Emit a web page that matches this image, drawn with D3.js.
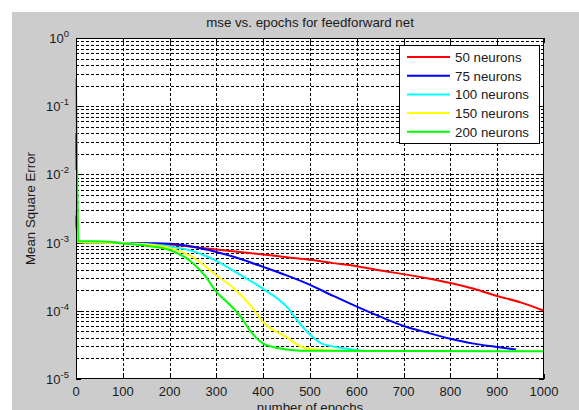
<!DOCTYPE html>
<html>
<head>
<meta charset="utf-8">
<script src="https://cdn.jsdelivr.net/npm/d3@7"></script>
<style>
  body { margin: 0; background: #fff; }
  text { font-family: Arial, "Liberation Sans", sans-serif; fill: #1a1a1a; }
</style>
</head>
<body>
<script>
// Chart data
var seriesNames = ["50 neurons", "75 neurons", "100 neurons", "150 neurons", "200 neurons"];
var seriesColors = ["#ff0000", "#0000ff", "#00ffff", "#ffff00", "#00ff00"];

var epochs50 = [0, 2, 5, 50, 100, 150, 200, 250, 300, 350, 400, 450, 500, 550, 600, 650, 700, 750, 800, 850, 900, 950, 1000];
var mse50 = [0.04, 0.004, 1.02e-3, 1.0e-3, 9.9e-4, 9.7e-4, 9.4e-4, 8.6e-4, 7.9e-4, 7.3e-4, 6.7e-4, 6.1e-4, 5.6e-4, 5.0e-4, 4.5e-4, 3.9e-4, 3.45e-4, 3.0e-4, 2.55e-4, 2.1e-4, 1.65e-4, 1.33e-4, 1.0e-4];

var epochs75 = [0, 2, 5, 50, 100, 150, 200, 250, 300, 350, 400, 450, 500, 550, 600, 650, 700, 750, 800, 850, 900, 940];
var mse75 = [0.0025, 0.0015, 1.02e-3, 1.0e-3, 9.9e-4, 9.8e-4, 9.6e-4, 8.7e-4, 7.3e-4, 5.8e-4, 4.4e-4, 3.3e-4, 2.4e-4, 1.65e-4, 1.15e-4, 8.2e-5, 6.0e-5, 4.8e-5, 3.9e-5, 3.3e-5, 2.95e-5, 2.7e-5];

var epochs100 = [0, 2, 5, 50, 100, 150, 200, 250, 300, 350, 400, 450, 480, 500, 525, 550, 575, 600, 610];
var mse100 = [0.003, 0.0018, 1.02e-3, 1.0e-3, 9.9e-4, 9.5e-4, 8.8e-4, 7.5e-4, 5.4e-4, 3.4e-4, 2.1e-4, 1.15e-4, 6.3e-5, 4.5e-5, 3.3e-5, 3.0e-5, 2.8e-5, 2.65e-5, 2.6e-5];

var epochs150 = [0, 2, 5, 50, 100, 150, 200, 250, 300, 335, 375, 400, 450, 480, 500, 560];
var mse150 = [0.0115, 0.003, 1.02e-3, 1.0e-3, 9.8e-4, 9.4e-4, 8.3e-4, 6.1e-4, 3.3e-4, 2.2e-4, 1.15e-4, 6.8e-5, 4.1e-5, 3.0e-5, 2.75e-5, 2.6e-5];

var epochs200 = [0, 2, 5, 60, 100, 150, 200, 250, 275, 300, 325, 350, 375, 400, 425, 450, 480, 1000];
var mse200 = [0.25, 0.02, 1.05e-3, 1.04e-3, 9.7e-4, 9.0e-4, 7.8e-4, 5.0e-4, 3.3e-4, 1.9e-4, 1.3e-4, 8.5e-5, 4.8e-5, 3.3e-5, 2.9e-5, 2.7e-5, 2.6e-5, 2.55e-5];

var xTicks = [0, 100, 200, 300, 400, 500, 600, 700, 800, 900, 1000];
var yExponents = [0, -1, -2, -3, -4, -5];

var allEpochs = [epochs50, epochs75, epochs100, epochs150, epochs200];
var allMse = [mse50, mse75, mse100, mse150, mse200];

// Layout
var width = 579, height = 410;
var plotLeft = 76, plotRight = 544, plotTop = 38, plotBottom = 379;

var svg = d3.select("body").append("svg")
  .attr("width", width)
  .attr("height", height);

// grey figure background
svg.append("rect")
  .attr("x", 12).attr("y", 12)
  .attr("width", width - 12).attr("height", height - 12)
  .attr("fill", "#cccccc");

var x = d3.scaleLinear().domain([0, 1000]).range([plotLeft, plotRight]);
var y = d3.scaleLog().domain([1e-5, 1]).range([plotBottom, plotTop]);

// plot area
svg.append("rect")
  .attr("x", plotLeft).attr("y", plotTop)
  .attr("width", plotRight - plotLeft).attr("height", plotBottom - plotTop)
  .attr("fill", "#fff");

// grid lines
var yGrid = y.ticks().filter(function(d) { return d > 1e-5 && d < 1; });
svg.append("g").selectAll("line")
  .data(yGrid)
  .enter().append("line")
  .attr("x1", plotLeft).attr("x2", plotRight)
  .attr("y1", function(d) { return Math.round(y(d)) + 0.5; })
  .attr("y2", function(d) { return Math.round(y(d)) + 0.5; })
  .attr("stroke", "#000")
  .attr("stroke-width", 1)
  .attr("stroke-dasharray", "3,2");

svg.append("g").selectAll("line")
  .data(xTicks.slice(1, -1))
  .enter().append("line")
  .attr("x1", function(d) { return Math.round(x(d)) + 0.5; })
  .attr("x2", function(d) { return Math.round(x(d)) + 0.5; })
  .attr("y1", plotTop).attr("y2", plotBottom)
  .attr("stroke", "#000")
  .attr("stroke-width", 1)
  .attr("stroke-dasharray", "3,2");

// tick marks (inside, on all four sides)
var ticks = svg.append("g").attr("stroke", "#000").attr("stroke-width", 1);
xTicks.forEach(function(d) {
  var px = Math.round(x(d)) + 0.5;
  ticks.append("line").attr("x1", px).attr("x2", px).attr("y1", plotBottom).attr("y2", plotBottom - 5);
  ticks.append("line").attr("x1", px).attr("x2", px).attr("y1", plotTop).attr("y2", plotTop + 5);
});
y.ticks().forEach(function(d) {
  var py = Math.round(y(d)) + 0.5;
  var major = Math.abs(Math.log10(d) - Math.round(Math.log10(d))) < 1e-9;
  var len = major ? 5 : 3;
  ticks.append("line").attr("x1", plotLeft).attr("x2", plotLeft + len).attr("y1", py).attr("y2", py);
  ticks.append("line").attr("x1", plotRight).attr("x2", plotRight - len).attr("y1", py).attr("y2", py);
});

// lines
var line = d3.line()
  .x(function(d) { return x(d[0]); })
  .y(function(d) { return y(d[1]); })
  .curve(d3.curveMonotoneX);

allEpochs.forEach(function(ep, i) {
  var pts = ep.map(function(e, j) { return [e, allMse[i][j]]; });
  svg.append("path")
    .datum(pts)
    .attr("d", line)
    .attr("fill", "none")
    .attr("stroke", seriesColors[i])
    .attr("stroke-width", 2);
});

// axes box
svg.append("rect")
  .attr("x", plotLeft + 0.5).attr("y", plotTop + 0.5)
  .attr("width", plotRight - plotLeft - 1).attr("height", plotBottom - plotTop - 1)
  .attr("fill", "none")
  .attr("stroke", "#000")
  .attr("stroke-width", 1);

// x tick labels
svg.append("g").selectAll("text")
  .data(xTicks)
  .enter().append("text")
  .attr("x", function(d) { return x(d); })
  .attr("y", 396)
  .attr("text-anchor", "middle")
  .attr("font-size", 13)
  .text(function(d) { return d; });

// y tick labels with superscripts
yExponents.forEach(function(e) {
  var t = svg.append("text")
    .attr("x", 69)
    .attr("y", y(Math.pow(10, e)) + 5)
    .attr("text-anchor", "end")
    .attr("font-size", 13);
  t.append("tspan").text("10");
  t.append("tspan").attr("dy", -6).attr("font-size", 9.5).text(e);
});

// title and axis labels
svg.append("text")
  .attr("x", (plotLeft + plotRight) / 2)
  .attr("y", 27)
  .attr("text-anchor", "middle")
  .attr("font-size", 13.3)
  .text("mse vs. epochs for feedforward net");

svg.append("text")
  .attr("transform", "translate(35," + ((plotTop + plotBottom) / 2) + ") rotate(-90)")
  .attr("text-anchor", "middle")
  .attr("font-size", 13.3)
  .text("Mean Square Error");

svg.append("text")
  .attr("x", (plotLeft + plotRight) / 2)
  .attr("y", 412)
  .attr("text-anchor", "middle")
  .attr("font-size", 13.3)
  .text("number of epochs");

// legend
var legend = svg.append("g");
legend.append("rect")
  .attr("x", 399.5).attr("y", 45.5)
  .attr("width", 140).attr("height", 98)
  .attr("fill", "#fff")
  .attr("stroke", "#000")
  .attr("stroke-width", 1);

seriesNames.forEach(function(name, i) {
  var ly = 57 + i * 18.7;
  legend.append("line")
    .attr("x1", 407).attr("x2", 450)
    .attr("y1", ly).attr("y2", ly)
    .attr("stroke", seriesColors[i])
    .attr("stroke-width", 2);
  legend.append("text")
    .attr("x", 455)
    .attr("y", ly + 5)
    .attr("font-size", 13.3)
    .text(name);
});
</script>
</body>
</html>
